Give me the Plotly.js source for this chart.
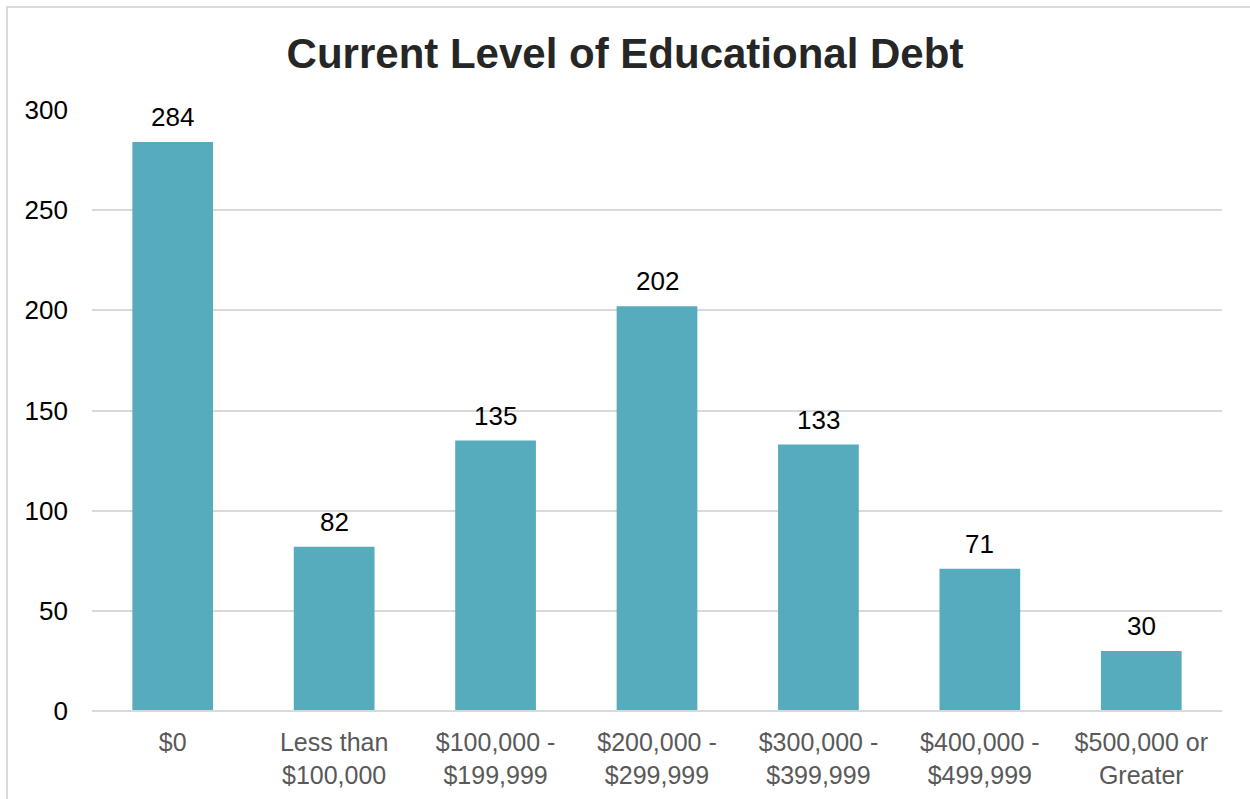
<!DOCTYPE html>
<html><head><meta charset="utf-8">
<script src="https://cdn.plot.ly/plotly-3.0.1.min.js"></script>
<style>html,body{margin:0;padding:0;background:#fff}#c{width:1250px;height:799px}</style>
</head><body><div id="c"></div>
<script>
const categories = ["$0", "Less than<br>$100,000", "$100,000 -<br>$199,999", "$200,000 -<br>$299,999", "$300,000 -<br>$399,999", "$400,000 -<br>$499,999", "$500,000 or<br>Greater"];
const counts = [284, 82, 135, 202, 133, 71, 30];
const yTicks = [0, 50, 100, 150, 200, 250, 300];

const L = 92, R = 1222, T = 110, B = 711, W = 1250, H = 799;
const pw = R - L, ph = B - T;
const FONT = 'Liberation Sans, Arial';

const labels = categories.map((c, i) => ({
  x: c, y: counts[i], xref: 'x', yref: 'y', text: String(counts[i]), showarrow: false,
  yanchor: 'middle', yshift: 25, font: {family: FONT, size: 26, color: '#000'}
}));

Plotly.newPlot('c', [{
  type: 'bar', x: categories, y: counts,
  marker: {color: '#56ACBD'}, hoverinfo: 'none'
}], {
  width: W, height: H,
  margin: {l: L, r: W - R, t: T, b: H - B},
  paper_bgcolor: '#fff', plot_bgcolor: '#fff',
  bargap: 0.5,
  title: {text: '<b>Current Level of Educational Debt</b>', x: 0.5, xanchor: 'center', y: 1 - 53 / H, yanchor: 'middle',
    font: {family: FONT, size: 42, color: '#262626'}},
  xaxis: {type: 'category', showgrid: false, zeroline: false, showline: false, ticks: '', ticklabelstandoff: 14,
    tickfont: {family: FONT, size: 25, color: '#595959'}},
  yaxis: {range: [0, 300], tickvals: yTicks, showgrid: true, gridcolor: '#D9D9D9', gridwidth: 2,
    zeroline: false, showline: false, ticks: '', ticklabelstandoff: 23,
    tickfont: {family: FONT, size: 26, color: '#000'}},
  annotations: labels,
  shapes: [
    {type: 'line', xref: 'paper', yref: 'paper', x0: 0, x1: 1, y0: 0, y1: 0, line: {color: '#D9D9D9', width: 2}},
    {type: 'rect', xref: 'paper', yref: 'paper', x0: (7 - L) / pw, x1: (W + 10 - L) / pw, y0: (B - (H + 10)) / ph, y1: (B - 7) / ph,
      line: {color: '#D9D9D9', width: 2}, fillcolor: 'rgba(0,0,0,0)', layer: 'below'}
  ],
  showlegend: false
}, {staticPlot: true});
</script></body></html>
